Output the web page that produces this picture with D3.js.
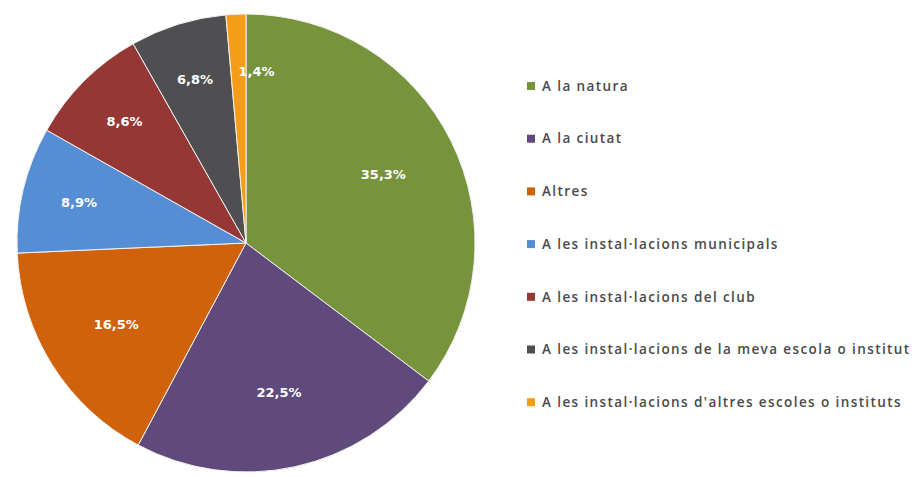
<!DOCTYPE html>
<html>
<head>
<meta charset="utf-8">
<script src="https://cdn.jsdelivr.net/npm/d3@7"></script>
<style>
  body { margin: 0; background: #fff; }
</style>
</head>
<body>
<svg width="914" height="477"></svg>
<script>
const categories = [
  "A la natura",
  "A la ciutat",
  "Altres",
  "A les instal·lacions municipals",
  "A les instal·lacions del club",
  "A les instal·lacions de la meva escola o institut",
  "A les instal·lacions d'altres escoles o instituts"
];
const values = [35.3, 22.5, 16.5, 8.9, 8.6, 6.8, 1.4];
const colors = ["#77933c", "#604a7b", "#d0620c", "#558ed5", "#953735", "#4f4f52", "#f59d16"];

const width = 914, height = 477;
const cx = 246, cy = 243, radius = 229;

const svg = d3.select("svg");

const pie = d3.pie().sort(null).value(d => d)(values);

const arc = d3.arc().innerRadius(0).outerRadius(radius);

const g = svg.append("g").attr("transform", `translate(${cx},${cy})`);

g.selectAll("path")
  .data(pie)
  .join("path")
    .attr("d", arc)
    .attr("fill", (d, i) => colors[i])
    .attr("stroke", "#f2f2f2")
    .attr("stroke-width", 1);

// labels, small slices get pushed further out like excel best fit
g.selectAll("text")
  .data(pie)
  .join("text")
    .each(function (d) {
      var a = (d.startAngle + d.endAngle) / 2;
      var r = d.data >= 15 ? radius * 0.67 : radius * 0.75;
      d.lx = Math.sin(a) * r;
      d.ly = -Math.cos(a) * r;
    })
    .attr("x", d => d.lx)
    .attr("y", d => d.ly)
    .attr("dy", "0.35em")
    .attr("text-anchor", d => d.data < 3 ? "start" : "middle")
    .attr("fill", "#fff")
    .attr("font-family", "DejaVu Sans, Verdana, sans-serif")
    .attr("font-weight", "bold")
    .attr("font-size", 13)
    .text(d => d.data.toFixed(1).replace(".", ",") + "%");

const legend = svg.append("g")
  .attr("font-family", "Open Sans, sans-serif")
  .attr("font-weight", 600)
  .attr("font-size", 13.5)
  .attr("fill", "#4a4a4a")
  .selectAll("g")
  .data(categories)
  .join("g")
    .attr("transform", (d, i) => `translate(527,${86 + i * 52.7})`);

legend.append("rect")
  .attr("x", 0)
  .attr("y", -4)
  .attr("width", 8)
  .attr("height", 8)
  .attr("fill", (d, i) => colors[i]);

legend.append("text")
  .attr("x", 15)
  .attr("dy", "0.35em")
  .attr("letter-spacing", 1.4)
  .text(d => d);
</script>
</body>
</html>
